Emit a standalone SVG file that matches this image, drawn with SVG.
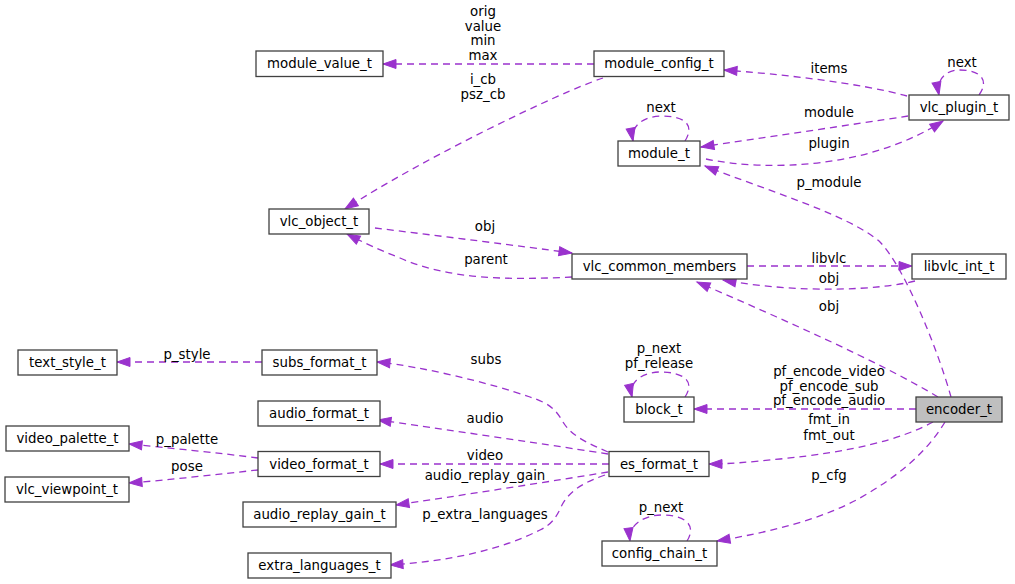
<svg xmlns="http://www.w3.org/2000/svg" width="1015" height="584" viewBox="0 0 1015 584">
<style>
.n rect{fill:#ffffff;stroke:#404040;stroke-width:1.3}
.n.h rect{fill:#bfbfbf}
text{font-family:"DejaVu Sans",sans-serif;font-size:13.33px;fill:#000000;text-anchor:middle}
.e path{fill:none;stroke:#9a32cd;stroke-width:1.3;stroke-dasharray:7,5;marker-end:url(#a)}
</style>
<defs>
<marker id="a" markerUnits="userSpaceOnUse" markerWidth="14" markerHeight="10" refX="13" refY="4.5" orient="auto" overflow="visible">
<path d="M0,0 L13,4.5 L0,9 Z" fill="#9a32cd" stroke="#9a32cd" stroke-width="1"/>
</marker>
</defs>
<rect width="1015" height="584" fill="#ffffff"/>
<g id="connectors" class="e">
<path d="M594,64 L383,64"/>
<path d="M603,78 C560,92 420,160 345,209"/>
<path d="M907,96 C860,83 780,74 724,70"/>
<path d="M979,95 C990,80 980,70 960,70 C945,70 936,80 939,95"/>
<path d="M908,116 C850,125 760,138 701,147"/>
<path d="M706,159 C770,172 870,168 943,121"/>
<path d="M685,141 C695,125 685,116 662,116 C645,116 630,125 633,141"/>
<path d="M951,397 C938,350 905,268 880,242 C850,215 760,188 705,166"/>
<path d="M375,228 C440,236 520,246 572,253"/>
<path d="M572,277 C510,280 450,280 400,258 C380,250 362,242 347,234"/>
<path d="M747,266 L912,266"/>
<path d="M915,281 C880,290 800,294 723,280"/>
<path d="M938,397 C880,362 780,318 697,282"/>
<path d="M916,409 L694,409"/>
<path d="M685,397 C695,382 685,372 660,372 C645,372 628,380 632,397"/>
<path d="M933,422 C900,440 850,452 780,459 C750,462 730,464 709,464"/>
<path d="M945,422 C925,455 895,478 860,498 C820,520 770,532 717,541"/>
<path d="M687,541 C697,525 685,515 662,515 C645,515 628,524 630,541"/>
<path d="M608,452 C590,444 572,437 563,422 C555,408 548,403 530,397 C490,383 420,366 377,362"/>
<path d="M608,454 C570,448 430,427 378,420"/>
<path d="M609,464 L380,464"/>
<path d="M608,472 C560,480 450,497 396,505"/>
<path d="M605,475 C585,482 570,490 562,505 C556,518 552,524 540,530 C500,550 450,561 390,565"/>
<path d="M262,362 L117,362"/>
<path d="M258,458 C220,453 170,448 129,444"/>
<path d="M258,470 C220,474 170,480 129,483"/>
</g>
<g id="edge-labels">
<text x="483" y="16">orig</text>
<text x="483" y="30.5">value</text>
<text x="483" y="45">min</text>
<text x="483" y="59.5">max</text>
<text x="483" y="84">i_cb</text>
<text x="483" y="99">psz_cb</text>
<text x="661" y="112">next</text>
<text x="829" y="72.5">items</text>
<text x="962" y="67">next</text>
<text x="829" y="116.5">module</text>
<text x="829" y="147.5">plugin</text>
<text x="829" y="187">p_module</text>
<text x="485" y="231">obj</text>
<text x="486" y="264">parent</text>
<text x="829" y="262.5">libvlc</text>
<text x="829" y="283">obj</text>
<text x="829" y="311">obj</text>
<text x="659" y="353">p_next</text>
<text x="659" y="367.5">pf_release</text>
<text x="829" y="376">pf_encode_video</text>
<text x="829" y="390.5">pf_encode_sub</text>
<text x="829" y="405">pf_encode_audio</text>
<text x="829" y="424">fmt_in</text>
<text x="829" y="439.5">fmt_out</text>
<text x="829" y="480">p_cfg</text>
<text x="661" y="512">p_next</text>
<text x="486" y="364">subs</text>
<text x="485" y="422.5">audio</text>
<text x="485" y="460">video</text>
<text x="485" y="480">audio_replay_gain</text>
<text x="485" y="518.5">p_extra_languages</text>
<text x="187" y="359">p_style</text>
<text x="187" y="443.5">p_palette</text>
<text x="187" y="471">pose</text>
</g>
<g id="module_value_t" class="n"><rect x="256" y="51" width="127" height="25.5"/><text x="319.5" y="68">module_value_t</text></g>
<g id="module_config_t" class="n"><rect x="594" y="51" width="130" height="25.5"/><text x="659" y="68">module_config_t</text></g>
<g id="module_t" class="n"><rect x="618" y="141" width="82" height="25"/><text x="659" y="158">module_t</text></g>
<g id="vlc_plugin_t" class="n"><rect x="909" y="95" width="100" height="25"/><text x="959" y="112">vlc_plugin_t</text></g>
<g id="vlc_object_t" class="n"><rect x="269" y="209" width="100" height="25"/><text x="319" y="226">vlc_object_t</text></g>
<g id="vlc_common_members" class="n"><rect x="572" y="254" width="175" height="25"/><text x="659.5" y="271">vlc_common_members</text></g>
<g id="libvlc_int_t" class="n"><rect x="912" y="254" width="94" height="25"/><text x="959" y="271">libvlc_int_t</text></g>
<g id="text_style_t" class="n"><rect x="18" y="350" width="99" height="25"/><text x="67.5" y="367">text_style_t</text></g>
<g id="subs_format_t" class="n"><rect x="262" y="350" width="115" height="25"/><text x="319.5" y="367">subs_format_t</text></g>
<g id="block_t" class="n"><rect x="624" y="397" width="70" height="25"/><text x="659" y="414">block_t</text></g>
<g id="encoder_t" class="n h"><rect x="916" y="397" width="86" height="25"/><text x="959" y="414">encoder_t</text></g>
<g id="audio_format_t" class="n"><rect x="258" y="401" width="122" height="25"/><text x="319" y="418">audio_format_t</text></g>
<g id="video_palette_t" class="n"><rect x="6" y="426" width="123" height="25"/><text x="67.5" y="443">video_palette_t</text></g>
<g id="video_format_t" class="n"><rect x="258" y="451.5" width="122" height="25"/><text x="319" y="468.5">video_format_t</text></g>
<g id="es_format_t" class="n"><rect x="609" y="451.5" width="100" height="25"/><text x="659" y="468.5">es_format_t</text></g>
<g id="vlc_viewpoint_t" class="n"><rect x="5" y="477" width="124" height="25"/><text x="67" y="494">vlc_viewpoint_t</text></g>
<g id="audio_replay_gain_t" class="n"><rect x="243" y="502" width="153" height="25"/><text x="319.5" y="519">audio_replay_gain_t</text></g>
<g id="config_chain_t" class="n"><rect x="602" y="541" width="115" height="25"/><text x="659.5" y="558">config_chain_t</text></g>
<g id="extra_languages_t" class="n"><rect x="248" y="553" width="143" height="25"/><text x="319.5" y="570">extra_languages_t</text></g>
</svg>
